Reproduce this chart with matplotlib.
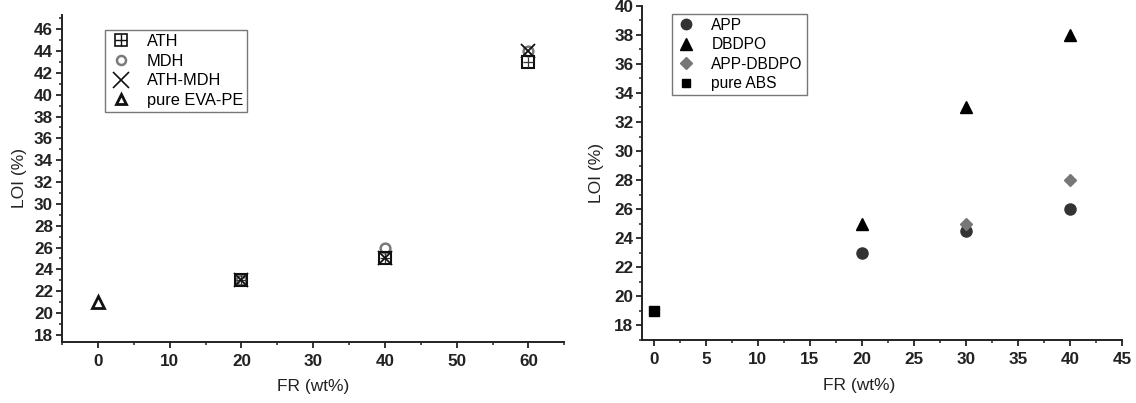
import matplotlib
matplotlib.use("Agg")
import matplotlib.pyplot as plt
from matplotlib.ticker import MultipleLocator
from matplotlib.legend_handler import HandlerTuple
from matplotlib.lines import Line2D

plt.rcParams['font.family'] = ['Liberation Sans', 'DejaVu Sans']

# ---- Left chart data ----
ath_x = [20, 40, 60]
ath_y = [23, 25, 43]
mdh_x = [20, 40, 60]
mdh_y = [23, 26, 44]
athmdh_x = [20, 40, 60]
athmdh_y = [23, 25, 44]
evape_x = [0]
evape_y = [21]
left_labels = ["ATH", "MDH", "ATH-MDH", "pure EVA-PE"]

# ---- Right chart data ----
app_x = [20, 30, 40]
app_y = [23, 24.5, 26]
dbdpo_x = [20, 30, 40]
dbdpo_y = [25, 33, 38]
appdbdpo_x = [30, 40]
appdbdpo_y = [25, 28]
abs_x = [0]
abs_y = [19]
right_labels = ["APP", "DBDPO", "APP-DBDPO", "pure ABS"]

W, H = 1136, 403
fig = plt.figure(figsize=(W / 100, H / 100), dpi=100)

Lx0, Lx1, Ly0, Ly1 = 62, 564.3, 15, 342
Rx0, Rx1, Ry0, Ry1 = 642.3, 1122, 5.7, 340
axL = fig.add_axes([Lx0 / W, 1 - Ly1 / H, (Lx1 - Lx0) / W, (Ly1 - Ly0) / H])
axR = fig.add_axes([Rx0 / W, 1 - Ry1 / H, (Rx1 - Rx0) / W, (Ry1 - Ry0) / H])

spine_c = '#222222'
for ax in (axL, axR):
    for s in ('top', 'right'):
        ax.spines[s].set_visible(False)
    for s in ('left', 'bottom'):
        ax.spines[s].set_linewidth(1.4)
        ax.spines[s].set_color(spine_c)
    ax.tick_params(which='major', direction='out', length=4, width=1.3, colors=spine_c)
    ax.tick_params(which='minor', direction='out', length=2.5, width=1.1, colors=spine_c)
    ax.tick_params(axis='y', which='major', pad=2.5)
    ax.tick_params(axis='x', which='major', pad=5)

# Left plot
axL.set_xlim(-5, 65)
axL.set_ylim(17.35, 47.3)
axL.xaxis.set_major_locator(MultipleLocator(10))
axL.xaxis.set_minor_locator(MultipleLocator(5))
axL.yaxis.set_minor_locator(MultipleLocator(1))
axL.set_yticks(list(range(18, 47, 2)))

axL.plot(mdh_x, mdh_y, linestyle='none', marker='o', markersize=7, markerfacecolor='none',
         markeredgecolor='#7a7a7a', markeredgewidth=1.8, zorder=3)
axL.plot(ath_x, ath_y, linestyle='none', marker='s', markersize=8.5, markerfacecolor='none',
         markeredgecolor='#111111', markeredgewidth=1.5, zorder=4)
axL.plot(ath_x, ath_y, linestyle='none', marker='+', markersize=7, markeredgecolor='#333333',
         markeredgewidth=0.9, zorder=4)
axL.plot(athmdh_x, athmdh_y, linestyle='none', marker='x', markersize=10, markeredgecolor='#111111',
         markeredgewidth=1.3, zorder=5)
axL.plot(evape_x, evape_y, linestyle='none', marker='^', markersize=8.5, markerfacecolor='none',
         markeredgecolor='#111111', markeredgewidth=2.0, zorder=4)

hL = [
    (Line2D([], [], linestyle='none', marker='s', markersize=8, markerfacecolor='none',
            markeredgecolor='#111111', markeredgewidth=1.2),
     Line2D([], [], linestyle='none', marker='+', markersize=8, markeredgecolor='#111111',
            markeredgewidth=1.0)),
    Line2D([], [], linestyle='none', marker='o', markersize=6.5, markerfacecolor='none',
           markeredgecolor='#7a7a7a', markeredgewidth=1.8),
    Line2D([], [], linestyle='none', marker='x', markersize=12, markeredgecolor='#111111',
           markeredgewidth=1.2),
    Line2D([], [], linestyle='none', marker='^', markersize=7, markerfacecolor='none',
           markeredgecolor='#111111', markeredgewidth=2.0),
]
legL = axL.legend(hL, left_labels, handler_map={tuple: HandlerTuple(ndivide=1, pad=0)},
                  loc='upper left', bbox_to_anchor=((105 - Lx0) / (Lx1 - Lx0), 1 - (30 - Ly0) / (Ly1 - Ly0)),
                  fontsize=11.8, frameon=True, fancybox=False, edgecolor='#555555',
                  borderpad=0.25, labelspacing=0.28, handlelength=1.4, handletextpad=0.9,
                  borderaxespad=0)
legL.get_frame().set_linewidth(1.0)

axL.set_xlabel("FR (wt%)", fontsize=12.5, color='#222222')
axL.set_ylabel("LOI (%)", fontsize=12.5, color='#222222')
axL.xaxis.set_label_coords(0.5, -(379 - Ly1) / (Ly1 - Ly0))
axL.yaxis.set_label_coords((27 - Lx0) / (Lx1 - Lx0), 0.5)

# Right plot
axR.set_xlim(-1.1, 45)
axR.set_ylim(17, 40)
axR.xaxis.set_major_locator(MultipleLocator(5))
axR.xaxis.set_minor_locator(MultipleLocator(2.5))
axR.yaxis.set_minor_locator(MultipleLocator(1))
axR.set_yticks(list(range(18, 41, 2)))

axR.plot(app_x, app_y, linestyle='none', marker='o', markersize=8, color='#333333', zorder=3)
axR.plot(appdbdpo_x, appdbdpo_y, linestyle='none', marker='D', markersize=6.5, color='#777777', zorder=4)
axR.plot(dbdpo_x, dbdpo_y, linestyle='none', marker='^', markersize=8.5, color='#000000', zorder=3)
axR.plot(abs_x, abs_y, linestyle='none', marker='s', markersize=6.5, color='#000000', zorder=3,
         clip_on=False)

hR = [
    Line2D([], [], linestyle='none', marker='o', markersize=7.5, color='#333333'),
    Line2D([], [], linestyle='none', marker='^', markersize=8.5, color='#000000'),
    Line2D([], [], linestyle='none', marker='D', markersize=6.5, color='#777777'),
    Line2D([], [], linestyle='none', marker='s', markersize=6, color='#000000'),
]
legR = axR.legend(hR, right_labels, loc='upper left',
                  bbox_to_anchor=((671.7 - Rx0) / (Rx1 - Rx0), 1 - (14 - Ry0) / (Ry1 - Ry0)),
                  fontsize=11.2, frameon=True, fancybox=False, edgecolor='#555555',
                  borderpad=0.25, labelspacing=0.28, handlelength=1.4, handletextpad=0.9,
                  borderaxespad=0)
legR.get_frame().set_linewidth(1.0)

axR.set_xlabel("FR (wt%)", fontsize=12.5, color='#222222')
axR.set_ylabel("LOI (%)", fontsize=12.5, color='#222222')
axR.xaxis.set_label_coords((859.5 - Rx0) / (Rx1 - Rx0), -(378 - Ry1) / (Ry1 - Ry0))
axR.yaxis.set_label_coords((604 - Rx0) / (Rx1 - Rx0), 0.5)

for ax in (axL, axR):
    for lab in ax.get_xticklabels() + ax.get_yticklabels():
        lab.set_fontweight('bold')
        lab.set_fontsize(12.3)
        lab.set_color('#222222')

fig.savefig("out.png", dpi=100)
